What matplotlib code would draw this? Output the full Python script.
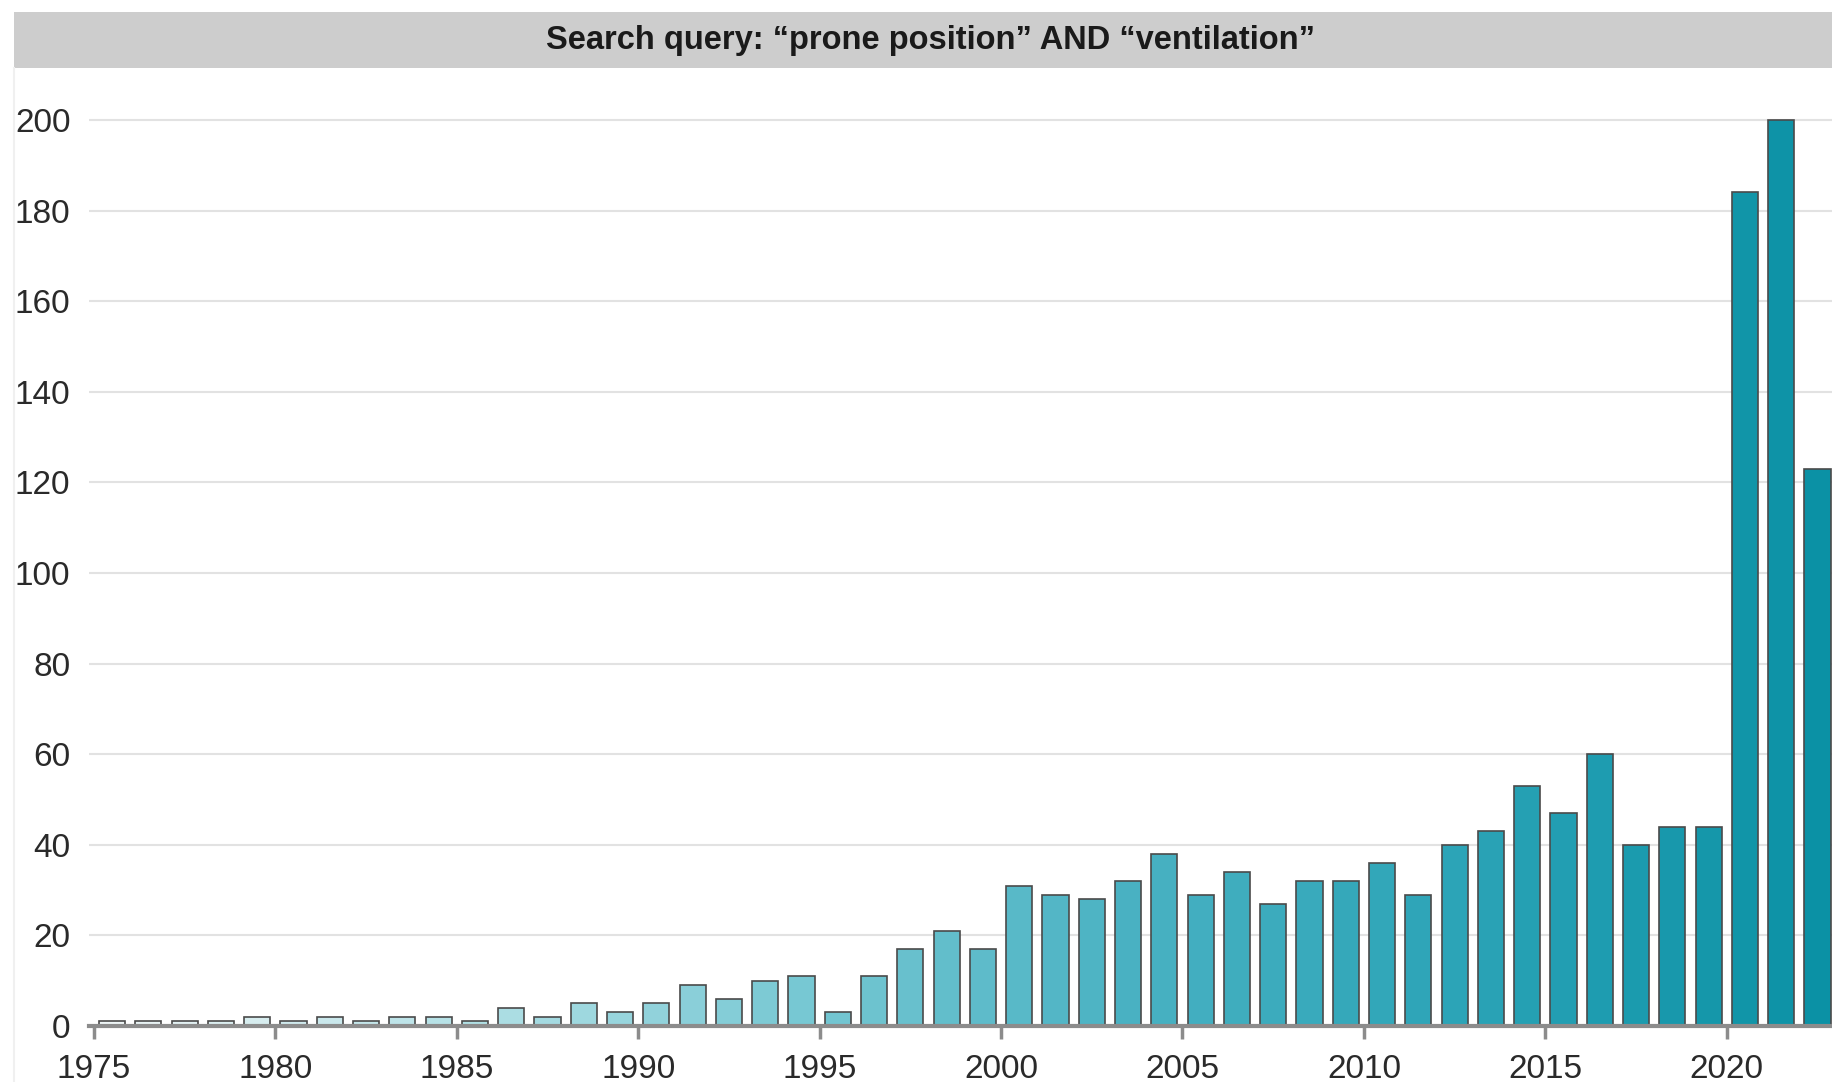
import numpy as np
import matplotlib.pyplot as plt
from matplotlib.colors import LinearSegmentedColormap
from matplotlib.patches import Rectangle

years = list(range(1975, 2023))
counts = [1, 1, 1, 1, 2, 1, 2, 1, 2, 2, 1, 4, 2, 5, 3, 5, 9, 6, 10, 11,
          3, 11, 17, 21, 17, 31, 29, 28, 32, 38, 29, 34, 27, 32, 32, 36, 29, 40, 43, 53,
          47, 60, 40, 44, 44, 184, 200, 123]
tick_years = list(range(1975, 2021, 5))
y_ticks = list(range(0, 201, 20))
title = "Search query: \u201cprone position\u201d AND \u201cventilation\u201d"

W, H = 1832, 1082
fig = plt.figure(figsize=(W / 100, H / 100), dpi=100)
fig.patch.set_facecolor('white')

# axes placed in pixel terms so the last bar is cut by the figure edge
x_lo, x_hi = 1974.85, 2022.9
ax = fig.add_axes([88.5 / W, 1 - 1026 / H, 1 - 88.5 / W, (1026 - 97.3) / H])

cmap = LinearSegmentedColormap.from_list(
    'teal', ['#eef5f6', '#b5e1e6', '#78c8d3', '#48b1c2', '#2aa3b6', '#0b91a5'])
frac = np.linspace(0, 1, len(years))
colors = [cmap(f) for f in frac]

ax.bar(np.array(years) + 0.5, counts, width=0.72, color=colors,
       edgecolor='#4a4a4a', linewidth=1.2, zorder=3)

ax.set_xlim(x_lo, x_hi)
ax.set_ylim(0, 205)
ax.set_yticks(y_ticks)
ax.set_xticks(tick_years)
ax.yaxis.grid(True, color='#e2e2e2', linewidth=1.5, zorder=0)
ax.set_axisbelow(True)

for s in ['top', 'right', 'left']:
    ax.spines[s].set_visible(False)
ax.spines['bottom'].set_color('#8c8c8c')
ax.spines['bottom'].set_linewidth(3)
ax.spines['bottom'].set_zorder(4)

ax.tick_params(axis='y', length=0, pad=13, labelsize=24, labelcolor='#2a2a2a')
ax.tick_params(axis='x', length=9, width=2.5, color='#8c8c8c', pad=11,
               labelsize=24, labelcolor='#2a2a2a')
for lab in ax.get_xticklabels() + ax.get_yticklabels():
    lab.set_fontfamily('Liberation Sans')

# grey title band
fig.patches.append(Rectangle((14 / W, 1 - 68 / H), 1 - 14 / W, 56 / H,
                             transform=fig.transFigure, facecolor='#cdcdcd',
                             edgecolor='none', zorder=0))
fig.add_artist(plt.Line2D([14 / W, 14 / W], [0, 1 - 68 / H], transform=fig.transFigure,
                          color='#f0f0f0', linewidth=1.5))
fig.text(930 / W, 1 - 40 / H, title, ha='center', va='center', fontsize=23.5,
         fontweight='bold', family='Liberation Sans', color='#1a1a1a')

fig.savefig('out.png', dpi=100)
